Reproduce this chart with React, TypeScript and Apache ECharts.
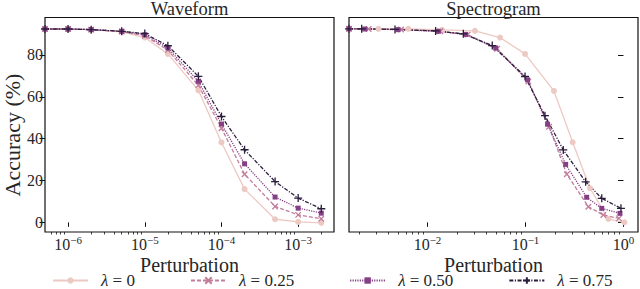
import React, { useEffect, useRef } from 'react';
import * as echarts from 'echarts';

// ---- data ----
const lambdaLabels = ['0', '0.25', '0.50', '0.75'];
const seriesColors = ['#edc9c3', '#c27d9b', '#853f85', '#2b1d3c'];

// Waveform panel (perturbation, accuracy %)
const waveformX = [5e-7, 1e-6, 2e-6, 5e-6, 1e-5, 2e-5, 5e-5, 1e-4, 2e-4, 5e-4, 1e-3, 2e-3];
const waveformLam0 = [92.4, 92.4, 92.1, 91.0, 88.3, 80.5, 63.1, 38.2, 15.9, 1.5, 0.2, -0.2];
const waveformLam25 = [92.4, 92.4, 92.1, 91.2, 89.2, 82.3, 65.5, 45.0, 23.0, 7.6, 3.6, 1.7];
const waveformLam50 = [92.4, 92.4, 92.1, 91.3, 89.7, 83.3, 67.4, 47.0, 28.0, 12.1, 6.8, 4.4];
const waveformLam75 = [92.4, 92.4, 92.1, 91.3, 90.2, 84.4, 69.8, 50.6, 34.7, 19.5, 11.6, 6.5];

// Spectrogram panel (each model has its own measured perturbation values)
const specXLam0 = [0.00158, 0.00316, 0.00637, 0.0141, 0.0305, 0.055, 0.0989, 0.195, 0.303, 0.455, 0.7, 1.02];
const specLam0 = [92.5, 92.5, 92.5, 92.0, 91.5, 88.3, 80.5, 62.8, 38.3, 16.3, 1.6, 0.0];
const specXLam25 = [0.00158, 0.00251, 0.00537, 0.0135, 0.0257, 0.0513, 0.107, 0.174, 0.264, 0.438, 0.622, 0.899];
const specLam25 = [92.5, 92.4, 92.2, 91.3, 89.7, 83.0, 67.3, 45.7, 23.0, 7.5, 3.5, 1.9];
const specXLam50 = [0.00158, 0.00229, 0.00501, 0.0129, 0.0245, 0.0497, 0.105, 0.168, 0.257, 0.421, 0.6, 0.92];
const specLam50 = [92.5, 92.4, 92.1, 91.3, 89.8, 83.3, 68.1, 46.9, 27.7, 12.0, 6.7, 4.3];
const specXLam75 = [0.00158, 0.00213, 0.00466, 0.0121, 0.0232, 0.0458, 0.0989, 0.158, 0.243, 0.411, 0.6, 0.942];
const specLam75 = [92.5, 92.5, 92.2, 91.5, 90.1, 84.5, 69.7, 51.0, 34.6, 19.4, 11.5, 6.7];

const yTicks = [0, 20, 40, 60, 80];
const waveformMajor = [-6, -5, -4, -3];
const specMajor = [-2, -1, 0];
const panelTitles = ['Waveform', 'Spectrogram'];
const xAxisTitle = 'Perturbation';
const yAxisTitle = 'Accuracy (%)';

const FONT = 'Liberation Serif, DejaVu Serif, serif';
const TEXT = '#262626';

const X_PATH = 'path://M0,0L10,10M10,0L0,10';
const PLUS_PATH = 'path://M5,0L5,10M0,5L10,5';

const names = lambdaLabels.map((l) => `λ = ${l}`);

function pairs(xs: number[], ys: number[]) {
  return xs.map((x, i) => [Math.log10(x), ys[i]]);
}

function minorTicks(lo: number, hi: number) {
  const out: number[] = [];
  for (let k = -9; k <= 2; k++) {
    for (let m = 2; m <= 9; m++) {
      const v = Math.log10(m) + k;
      if (v >= lo - 1e-9 && v <= hi + 1e-9) out.push(v);
    }
  }
  return out;
}

const styles = [
  { type: 'solid' as any, symbol: 'circle', size: 6, stroke: false },
  { type: [4, 2] as any, symbol: X_PATH, size: 5.5, stroke: true },
  { type: [1.2, 1.2] as any, symbol: 'rect', size: 5, stroke: false },
  { type: [4, 1.5, 1.2, 1.5] as any, symbol: PLUS_PATH, size: 8, stroke: true },
];

function makeSeries(idx: number, data: number[][], xAxisIndex: number, yAxisIndex: number) {
  const s = styles[idx];
  const c = seriesColors[idx];
  return {
    type: 'line',
    name: names[idx],
    xAxisIndex,
    yAxisIndex,
    data,
    symbol: s.symbol,
    symbolSize: s.size,
    showAllSymbol: true,
    clip: true,
    lineStyle: { color: c, width: 1.3, type: s.type },
    itemStyle: s.stroke
      ? { color: c, borderColor: c, borderWidth: 1.3 }
      : { color: c, borderWidth: 0 },
    emphasis: { disabled: true },
  };
}

const W_MIN = -6.301;
const W_MAX = -2.533;
const S_MIN = -2.801;
const S_MAX = 0.148;
const Y_MIN = -4.6;
const Y_MAX = 97.9;

function supLabel(v: number) {
  const e = Math.round(v);
  const sup = e < 0 ? `−${-e}` : `${e}`;
  return `{b|10}{s|${sup}}`;
}

const labelRich = {
  b: { fontFamily: FONT, fontSize: 16, color: TEXT, verticalAlign: 'bottom' },
  s: { fontFamily: FONT, fontSize: 11, color: TEXT, verticalAlign: 'bottom', padding: [0, 0, 7, 0] },
};

function majorXAxis(grid: number, min: number, max: number, major: number[]) {
  return {
    type: 'value',
    gridIndex: grid,
    min,
    max,
    position: 'bottom',
    axisLine: { show: false },
    splitLine: { show: false },
    axisTick: { show: true, customValues: major, length: 4.5, lineStyle: { color: '#111', width: 1 } },
    axisLabel: {
      show: true,
      customValues: major,
      formatter: supLabel,
      rich: labelRich,
      margin: 2.5,
    },
  };
}

function minorXAxis(grid: number, min: number, max: number) {
  return {
    type: 'value',
    gridIndex: grid,
    min,
    max,
    position: 'bottom',
    axisLine: { show: false },
    splitLine: { show: false },
    axisTick: { show: true, customValues: minorTicks(min, max), length: 2.5, lineStyle: { color: '#111', width: 0.8 } },
    axisLabel: { show: false },
  };
}

function yAxis(grid: number, withLabels: boolean) {
  return {
    type: 'value',
    gridIndex: grid,
    min: Y_MIN,
    max: Y_MAX,
    axisLine: { show: false },
    splitLine: { show: false },
    axisTick: { show: true, customValues: yTicks, length: 5.5, lineStyle: { color: '#111', width: 1 } },
    axisLabel: {
      show: withLabels,
      customValues: yTicks,
      fontFamily: FONT,
      fontSize: 16,
      color: TEXT,
      margin: 2,
    },
  };
}

const panelCenters = [189.5, 493.5];

function textEl(text: string, x: number, y: number, size: number, rotation = 0, lineHeight?: number) {
  return {
    type: 'text',
    x,
    y,
    rotation,
    style: {
      text,
      fontFamily: FONT,
      fontSize: size,
      fontWeight: 'normal',
      fill: TEXT,
      align: 'center',
      verticalAlign: 'middle',
      ...(lineHeight ? { lineHeight } : {}),
    },
  };
}

const option = {
  animation: false,
  grid: [
    { left: 45, top: 17.5, width: 289, height: 214.5, show: true, borderColor: '#111', borderWidth: 1.2, backgroundColor: 'transparent' },
    { left: 349, top: 17.5, width: 289, height: 214.5, show: true, borderColor: '#111', borderWidth: 1.2, backgroundColor: 'transparent' },
  ],
  xAxis: [
    majorXAxis(0, W_MIN, W_MAX, waveformMajor),
    minorXAxis(0, W_MIN, W_MAX),
    majorXAxis(1, S_MIN, S_MAX, specMajor),
    minorXAxis(1, S_MIN, S_MAX),
  ],
  yAxis: [yAxis(0, true), yAxis(1, false)],
  legend: {
    data: names,
    left: 52,
    top: 272,
    padding: 0,
    itemGap: 55,
    itemWidth: 35,
    itemHeight: 8,
    formatter: (n: string) => n.replace('λ', '{i|λ}'),
    textStyle: {
      fontFamily: FONT,
      fontSize: 17,
      lineHeight: 16,
      color: TEXT,
      padding: [0, 0, 0, 8],
      rich: {
        i: { fontFamily: FONT, fontSize: 17, lineHeight: 16, fontStyle: 'italic', color: TEXT },
      },
    },
  },
  graphic: [
    textEl(panelTitles[0], panelCenters[0], 8.5, 18.5, 0, 17),
    textEl(panelTitles[1], panelCenters[1], 8.5, 18.5, 0, 17),
    textEl(xAxisTitle, panelCenters[0], 264.5, 20, 0, 14),
    textEl(xAxisTitle, panelCenters[1], 264.5, 20, 0, 14),
    textEl(yAxisTitle, 12, 135, 22, Math.PI / 2),
  ],
  series: [
    makeSeries(0, pairs(waveformX, waveformLam0), 0, 0),
    makeSeries(1, pairs(waveformX, waveformLam25), 0, 0),
    makeSeries(2, pairs(waveformX, waveformLam50), 0, 0),
    makeSeries(3, pairs(waveformX, waveformLam75), 0, 0),
    makeSeries(0, pairs(specXLam0, specLam0), 2, 1),
    makeSeries(1, pairs(specXLam25, specLam25), 2, 1),
    makeSeries(2, pairs(specXLam50, specLam50), 2, 1),
    makeSeries(3, pairs(specXLam75, specLam75), 2, 1),
  ],
};

export default function App() {
  const ref = useRef<HTMLDivElement>(null);
  useEffect(() => {
    const chart = echarts.init(ref.current!, null, { renderer: 'svg' });
    chart.setOption(option as any);
    return () => chart.dispose();
  }, []);
  return (
    <div
      ref={ref}
      style={{ position: 'fixed', left: 0, top: 0, width: 640, height: 289, background: '#fff' }}
    />
  );
}
